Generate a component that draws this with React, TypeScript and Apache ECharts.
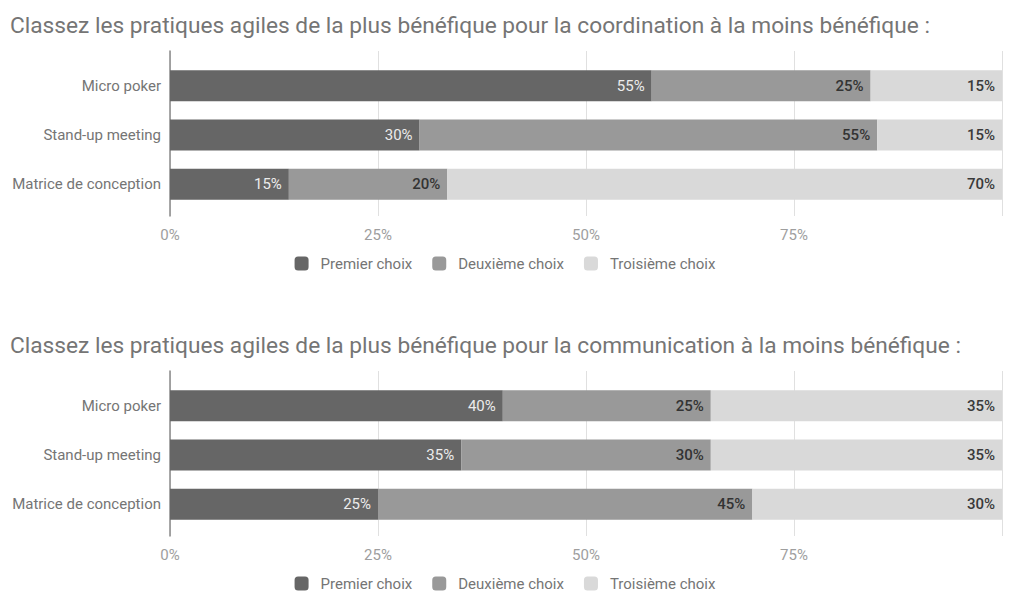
import React, { useEffect, useRef } from "react";
import * as echarts from "echarts";

const categories = ["Micro poker", "Stand-up meeting", "Matrice de conception"];
const choices = ["Premier choix", "Deuxième choix", "Troisième choix"];
const choiceColors = ["#666666", "#999999", "#d9d9d9"];
const labelColors = ["#ececec", "#333333", "#3a3a3a"];
const respondents = 20;

const titleCoordination =
  "Classez les pratiques agiles de la plus bénéfique pour la coordination à la moins bénéfique :";
const titleCommunication =
  "Classez les pratiques agiles de la plus bénéfique pour la communication à la moins bénéfique :";

// answer counts per category (Micro poker, Stand-up meeting, Matrice de conception)
const coordFirst = [11, 6, 3];
const coordSecond = [5, 11, 4];
const coordThird = [3, 3, 14];

const commFirst = [8, 7, 5];
const commSecond = [5, 6, 9];
const commThird = [7, 7, 6];

const tickValues = [0, 25, 50, 75];

const charts = [
  { title: titleCoordination, counts: [coordFirst, coordSecond, coordThird], offset: 0 },
  { title: titleCommunication, counts: [commFirst, commSecond, commThird], offset: 320 },
];

export default function App() {
  const ref = useRef<HTMLDivElement>(null);
  useEffect(() => {
    if (!ref.current) return;
    const chart = echarts.init(ref.current, undefined, { renderer: "svg" });
    const font = "Roboto";
    const titles: any[] = [];
    const legends: any[] = [];
    const grids: any[] = [];
    const xAxes: any[] = [];
    const yAxes: any[] = [];
    const series: any[] = [];

    charts.forEach((c, ci) => {
      const o = c.offset;
      titles.push({
        text: c.title,
        left: 10,
        top: 12 + o,
        padding: 0,
        textStyle: { fontSize: 22.7, fontWeight: "normal", color: "#757575", fontFamily: font, lineHeight: 26 },
      });
      legends.push({
        data: choices,
        top: 256 + o,
        left: "center",
        padding: 0,
        itemWidth: 14,
        itemHeight: 14,
        itemGap: 20,
        icon: "roundRect",
        selectedMode: false,
        textStyle: { color: "#757575", fontSize: 15, fontFamily: font, padding: [0, 0, 0, 7] },
      });
      // frame grid (gridlines, axis line, ticks)
      grids.push({ left: 170, right: 8, top: 51 + o, height: 165 });
      // bar grid
      grids.push({ left: 170, right: 8, top: 61 + o, height: 148 });
      const fi = ci * 2;
      const bi = ci * 2 + 1;
      xAxes.push({
        gridIndex: fi,
        type: "value",
        min: 0,
        max: 100,
        interval: 25,
        axisLine: { show: false },
        axisTick: { show: false },
        splitLine: { show: true, lineStyle: { color: "#e0e0e0", width: 1 } },
        axisLabel: {
          color: "#9e9e9e",
          fontSize: 15,
          fontFamily: font,
          margin: 11,
          formatter: (v: number) => (tickValues.indexOf(v) >= 0 ? v + "%" : ""),
        },
      });
      yAxes.push({
        gridIndex: fi,
        type: "value",
        min: 0,
        max: 1,
        axisLine: { show: true, lineStyle: { color: "#8a8a8a", width: 1.5 } },
        axisTick: { show: false },
        axisLabel: { show: false },
        splitLine: { show: false },
      });
      xAxes.push({ gridIndex: bi, type: "value", min: 0, max: 100, show: false });
      yAxes.push({
        gridIndex: bi,
        type: "category",
        data: categories,
        inverse: true,
        axisLine: { show: false },
        axisTick: { show: false },
        axisLabel: { color: "#757575", fontSize: 15, fontFamily: font, margin: 9 },
      });
      const totals = categories.map((_, k) => c.counts.reduce((s, arr) => s + arr[k], 0));
      c.counts.forEach((arr, i) => {
        series.push({
          type: "bar",
          name: choices[i],
          xAxisIndex: bi,
          yAxisIndex: bi,
          stack: "chart" + ci,
          barWidth: 31,
          data: arr.map((v, k) => (v / totals[k]) * 100),
          itemStyle: { color: choiceColors[i] },
          label: {
            show: true,
            position: "insideRight",
            distance: 7,
            color: labelColors[i],
            fontSize: 15,
            fontWeight: i === 0 ? "normal" : 500,
            fontFamily: font,
            formatter: (p: any) => Math.round((arr[p.dataIndex] / respondents) * 100) + "%",
          },
        });
      });
    });

    chart.setOption({
      animation: false,
      backgroundColor: "#ffffff",
      textStyle: { fontFamily: font },
      title: titles,
      legend: legends,
      grid: grids,
      xAxis: xAxes,
      yAxis: yAxes,
      series,
    });
    return () => chart.dispose();
  }, []);
  return (
    <div
      ref={ref}
      style={{ position: "fixed", left: 0, top: 0, width: 1010, height: 593, background: "#fff" }}
    />
  );
}
